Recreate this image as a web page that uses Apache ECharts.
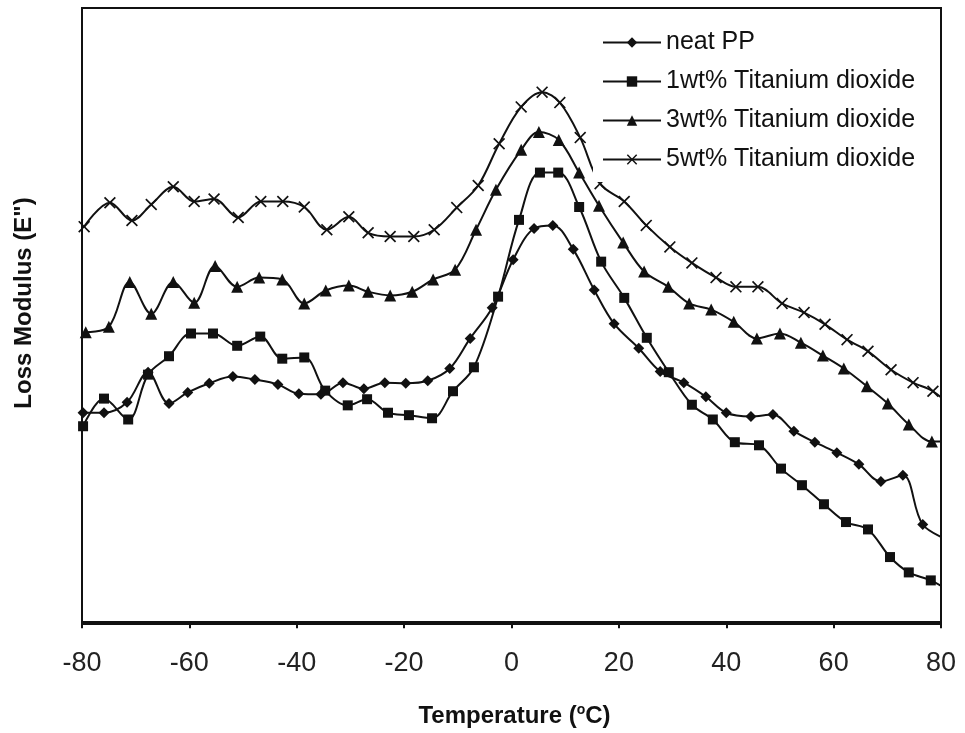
<!DOCTYPE html>
<html>
<head>
<meta charset="utf-8">
<script src="https://cdn.jsdelivr.net/npm/echarts@6/dist/echarts.min.js"></script>
<style>
  html, body { margin: 0; padding: 0; background: #fff; }
  #main { width: 965px; height: 733px; }
</style>
</head>
<body>
<div id="main"></div>
<script>
// temperature (°C) and loss modulus (arbitrary units)
var tempPP = [-79.8,-75.9,-71.6,-67.7,-63.8,-60.3,-56.3,-51.9,-47.8,-43.5,-39.6,-35.5,-31.4,-27.5,-23.6,-19.7,-15.6,-11.5,-7.7,-3.6,0.3,4.2,7.7,11.5,15.4,19.1,23.7,27.7,32.1,36.2,40.0,44.6,48.7,52.6,56.5,60.6,64.7,68.8,72.9,76.6,81.9];
var modPP = [34.1,34.1,35.8,40.7,35.6,37.4,38.9,40.0,39.5,38.7,37.2,37.1,39.0,38.0,39.0,38.9,39.3,41.3,46.2,51.2,59.0,64.1,64.6,60.7,54.1,48.6,44.6,40.8,39.0,36.7,34.1,33.5,33.8,31.1,29.3,27.6,25.7,22.9,23.9,15.9,13.2];

var temp1 = [-79.8,-75.9,-71.4,-67.7,-63.8,-59.7,-55.6,-51.1,-46.8,-42.7,-38.6,-34.7,-30.5,-26.9,-23.0,-19.1,-14.8,-10.9,-7.0,-2.5,1.4,5.3,8.7,12.6,16.7,21.0,25.2,29.3,33.6,37.5,41.6,46.1,50.2,54.1,58.2,62.3,66.4,70.5,74.0,78.1,81.9];
var mod1 = [31.9,36.4,33.0,40.3,43.3,47.0,47.0,45.0,46.5,42.9,43.1,37.7,35.3,36.3,34.1,33.7,33.2,37.6,41.5,53.0,65.5,73.2,73.2,67.6,58.7,52.8,46.3,40.7,35.4,33.0,29.3,28.8,25.0,22.3,19.2,16.3,15.1,10.6,8.1,6.8,4.9];

var temp3 = [-79.3,-75.0,-71.1,-67.1,-63.0,-59.1,-55.2,-51.1,-47.0,-42.7,-38.6,-34.6,-30.3,-26.7,-22.6,-18.5,-14.6,-10.5,-6.6,-2.9,1.8,5.1,8.8,12.6,16.3,20.8,24.7,29.2,33.1,37.2,41.4,45.7,50.0,53.9,58.0,61.9,66.2,70.1,74.0,78.3,81.9];
var mod3 = [47.2,48.1,55.4,50.2,55.4,52.0,58.0,54.6,56.1,55.8,51.9,54.0,54.8,53.8,53.2,53.8,55.8,57.4,63.9,70.4,76.9,79.8,78.5,73.2,67.8,61.8,57.1,54.6,51.9,50.9,48.9,46.2,47.0,45.5,43.4,41.3,38.4,35.6,32.2,29.4,29.4];

var temp5 = [-79.6,-74.8,-70.7,-67.1,-63.0,-59.1,-55.4,-50.9,-46.7,-42.6,-38.6,-34.4,-30.3,-26.7,-22.6,-18.2,-14.4,-10.2,-6.2,-2.3,1.8,5.7,9.0,12.8,16.5,21.0,25.1,29.5,33.6,38.1,41.8,45.9,50.4,54.5,58.4,62.5,66.4,70.7,74.8,78.5,81.9];
var mod5 = [64.4,68.3,65.4,68.0,70.9,68.5,68.9,65.9,68.5,68.5,67.6,63.9,66.0,63.4,62.8,62.8,63.9,67.5,71.1,77.9,83.9,86.3,84.6,78.9,71.4,68.5,64.6,61.1,58.5,56.1,54.6,54.6,51.9,50.4,48.5,46.0,44.1,41.1,39.0,37.6,35.1];

var seriesNames = ['neat PP', '1wt% Titanium dioxide', '3wt% Titanium dioxide', '5wt% Titanium dioxide'];
var xTicks = [-80, -60, -40, -20, 0, 20, 40, 60, 80];

var FONT = 'Liberation Sans, Arial, sans-serif';
var INK = '#111';
// filled "x" marker
var crossPath = 'path://M0,1L1,0L5,4L9,0L10,1L6,5L10,9L9,10L5,6L1,10L0,9L4,5Z';

// pair the arrays; the points past 80 °C only carry the line end
function pairs(t, m) {
  return t.map(function (x, i) {
    var p = { value: [x, m[i]] };
    if (x > 80) p.symbol = 'none';
    return p;
  });
}

function line(name, t, m, symbol, size) {
  return {
    name: name,
    type: 'line',
    data: pairs(t, m),
    smooth: 0.35,
    clip: false,
    symbol: symbol,
    symbolSize: size,
    showAllSymbol: true,
    lineStyle: { color: INK, width: 2 },
    itemStyle: { color: INK },
    emphasis: { disabled: true }
  };
}

var chart = echarts.init(document.getElementById('main'));
chart.setOption({
  backgroundColor: '#fff',
  animation: false,
  grid: {
    left: 82, right: 24, top: 8, bottom: 108,
    show: true, borderColor: INK, borderWidth: 2
  },
  legend: {
    orient: 'vertical',
    left: 593, top: 10,
    backgroundColor: '#fff',
    padding: [20, 18, 10, 9],
    itemWidth: 58, itemHeight: 13, itemGap: 14,
    data: seriesNames,
    textStyle: { fontFamily: FONT, fontSize: 25, lineHeight: 25, color: INK }
  },
  xAxis: {
    type: 'value',
    min: -80, max: 80, interval: 20,
    name: 'Temperature ({sup|o}C)',
    nameLocation: 'middle',
    nameGap: 79,
    nameTextStyle: {
      fontFamily: FONT, fontSize: 24, fontWeight: 'bold', color: INK,
      padding: [0, 0, 0, 6],
      rich: { sup: { fontFamily: FONT, fontSize: 14, fontWeight: 'bold', color: INK, padding: [0, 0, 12, 0] } }
    },
    axisLine: { lineStyle: { color: INK, width: 2 } },
    axisTick: { length: 6, lineStyle: { color: INK, width: 2 } },
    axisLabel: {
      fontFamily: FONT, fontSize: 27, color: '#222', margin: 26,
      formatter: function (v) { return xTicks.indexOf(v) >= 0 ? String(v) : ''; }
    },
    splitLine: { show: false }
  },
  yAxis: {
    type: 'value',
    min: -0.3, max: 100,
    name: 'Loss Modulus (E")',
    nameLocation: 'middle',
    nameRotate: 90,
    nameGap: 46,
    nameTextStyle: {
      fontFamily: FONT, fontSize: 24, fontWeight: 'bold', color: INK,
      padding: [0, 0, 0, 26]
    },
    axisLine: { show: false },
    axisTick: { show: false },
    axisLabel: { show: false },
    splitLine: { show: false }
  },
  series: [
    line(seriesNames[0], tempPP, modPP, 'diamond', 11),
    line(seriesNames[1], temp1, mod1, 'rect', 10),
    line(seriesNames[2], temp3, mod3, 'triangle', 12),
    line(seriesNames[3], temp5, mod5, crossPath, 12)
  ]
});
</script>
</body>
</html>
